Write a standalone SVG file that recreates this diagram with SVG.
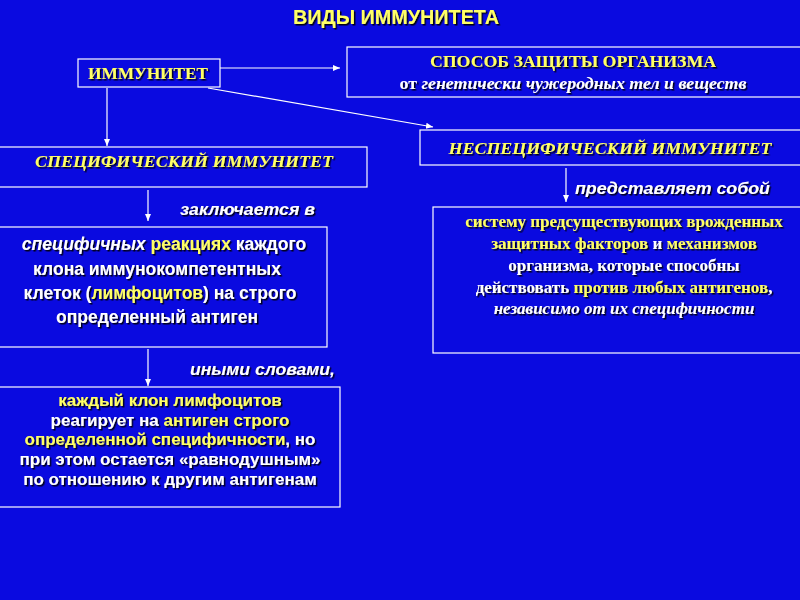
<svg xmlns="http://www.w3.org/2000/svg" width="800" height="600" viewBox="0 0 800 600">
<defs>
<filter id="sh" x="-5%" y="-20%" width="110%" height="140%"><feDropShadow dx="1.5" dy="1.5" stdDeviation="0.3" flood-color="#000" flood-opacity="0.9"/></filter>
<marker id="ar" markerWidth="8" markerHeight="8" refX="7" refY="4" orient="auto" markerUnits="userSpaceOnUse"><path d="M0,1 L7,4 L0,7 Z" fill="#fff"/></marker>
</defs>
<style>
.bx{fill:none;stroke:#fff;stroke-width:1.2}
.c{stroke:#fff;stroke-width:1.2;fill:none;marker-end:url(#ar)}
.s{font-family:"Liberation Sans",Arial,sans-serif;font-weight:bold;filter:url(#sh)}
.r{font-family:"Liberation Serif","Times New Roman",serif;font-weight:bold;filter:url(#sh)}
.y{fill:#ffff66}.w{fill:#fff}
</style>
<rect width="800" height="600" fill="#0a0ae0"/>
<text class="s y" x="396" y="24" font-size="20" text-anchor="middle" textLength="206" lengthAdjust="spacingAndGlyphs">ВИДЫ ИММУНИТЕТА</text>
<g id="connectors">
<line class="c" x1="220" y1="68" x2="340" y2="68"/>
<line class="c" x1="208" y1="88" x2="433" y2="127"/>
<line class="c" x1="107" y1="88" x2="107" y2="146"/>
<line class="c" x1="148" y1="190" x2="148" y2="221"/>
<line class="c" x1="148" y1="349" x2="148" y2="386"/>
<line class="c" x1="566" y1="168" x2="566" y2="202"/>
</g>
<g id="imm"><rect class="bx" x="78" y="59" width="142" height="28"/><text class="r y" x="148" y="79" font-size="16.5" text-anchor="middle" textLength="120" lengthAdjust="spacingAndGlyphs">ИММУНИТЕТ</text></g>
<g id="sposob"><rect class="bx" x="347" y="47" width="460" height="50"/>
<text class="r y" x="573" y="67" font-size="17" text-anchor="middle" textLength="286" lengthAdjust="spacingAndGlyphs">СПОСОБ ЗАЩИТЫ ОРГАНИЗМА</text>
<text class="r w" x="573" y="89" font-size="16" text-anchor="middle" textLength="347" lengthAdjust="spacingAndGlyphs">от <tspan font-style="italic">генетически чужеродных тел и веществ</tspan></text></g>
<g id="spec"><rect class="bx" x="-2" y="147" width="369" height="40"/><text class="r y" x="184" y="167" font-size="17" font-style="italic" text-anchor="middle" textLength="298" lengthAdjust="spacingAndGlyphs">СПЕЦИФИЧЕСКИЙ ИММУНИТЕТ</text></g>
<g id="nespec"><rect class="bx" x="420" y="130" width="390" height="35"/><text class="r y" x="610" y="154" font-size="17" font-style="italic" text-anchor="middle" textLength="323" lengthAdjust="spacingAndGlyphs">НЕСПЕЦИФИЧЕСКИЙ ИММУНИТЕТ</text></g>
<text class="s w" x="180" y="215" font-size="17" font-style="italic" textLength="135" lengthAdjust="spacingAndGlyphs">заключается в</text>
<text class="s w" x="190" y="375" font-size="17" font-style="italic" textLength="145" lengthAdjust="spacingAndGlyphs">иными словами,</text>
<text class="s w" x="575" y="194" font-size="17" font-style="italic" textLength="195" lengthAdjust="spacingAndGlyphs">представляет собой</text>
<g id="box3"><rect class="bx" x="-2" y="227" width="329" height="120"/>
<g class="s w" font-size="17.5" text-anchor="middle">
<text x="164" y="250"><tspan font-style="italic">специфичных</tspan> <tspan class="y">реакциях</tspan> каждого</text>
<text x="157" y="275">клона иммунокомпетентных</text>
<text x="160" y="299">клеток (<tspan class="y">лимфоцитов</tspan>) на строго</text>
<text x="157" y="323">определенный антиген</text></g></g>
<g id="box4"><rect class="bx" x="-2" y="387" width="342" height="120"/>
<g class="s w" font-size="17" text-anchor="middle">
<text class="y" x="170" y="406">каждый клон лимфоцитов</text>
<text x="170" y="426">реагирует на <tspan class="y">антиген строго</tspan></text>
<text x="170" y="445"><tspan class="y">определенной специфичности</tspan>, но</text>
<text x="170" y="465">при этом остается «равнодушным»</text>
<text x="170" y="485">по отношению к другим антигенам</text></g></g>
<g id="box5"><rect class="bx" x="433" y="207" width="375" height="146"/>
<g class="r w" font-size="17" text-anchor="middle">
<text class="y" x="624" y="227">систему предсуществующих врожденных</text>
<text x="624" y="249"><tspan class="y">защитных факторов</tspan> и <tspan class="y">механизмов</tspan></text>
<text x="624" y="271">организма, которые способны</text>
<text x="624" y="293">действовать <tspan class="y">против любых антигенов</tspan>,</text>
<text x="624" y="314" font-style="italic">независимо от их специфичности</text></g></g>
</svg>
